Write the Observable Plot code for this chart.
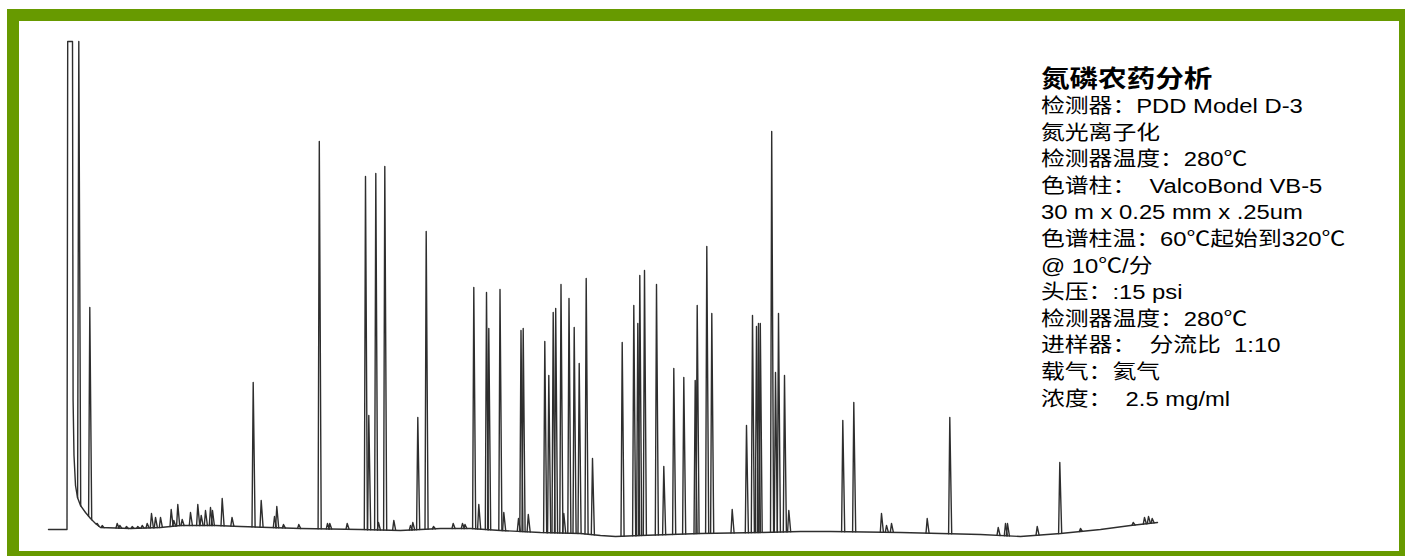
<!DOCTYPE html>
<html>
<head>
<meta charset="utf-8">
<script src="https://cdn.jsdelivr.net/npm/d3@7"></script>
<script src="https://cdn.jsdelivr.net/npm/@observablehq/plot@0.6"></script>
<style>
  html, body { margin: 0; padding: 0; background: #ffffff; width: 1405px; height: 556px; overflow: hidden; }
  #frame { position: absolute; left: 7px; top: 9px; width: 1404px; height: 554px; box-sizing: border-box; border: 12px solid #679a00; }
  #chart { position: absolute; left: 0; top: 0; }
  #notes { position: absolute; left: 1041px; top: 65px; transform: scaleX(1.19); transform-origin: left top;
           font-family: "Liberation Sans", "Noto Sans CJK SC", sans-serif; color: #000; white-space: pre; }
  #notes .title { font-size: 24px; font-weight: bold; line-height: 28px; height: 28px; }
  #notes .line { font-size: 20px; line-height: 26.6px; height: 26.6px; overflow: visible; }
  #notes .cjk { font-family: "Noto Sans CJK SC", sans-serif; line-height: 1; }
</style>
</head>
<body>
<div id="frame"></div>
<div id="chart"></div>
<div id="notes"></div>
<script>
// Baseline / solvent front of the trace (scan position, detector response)
const baseT = [48, 66.5, 67.2, 72, 72.6, 73.5, 75, 77, 80, 85, 90, 95, 100, 130, 160, 180, 215, 240, 300, 360, 400, 440, 470, 500, 540, 580, 600, 615, 640, 700, 760, 800, 830, 900, 980, 1020, 1060, 1100, 1130, 1157];
const baseV = [27, 27, 515, 515, 156, 101, 71, 59, 51, 44, 38, 33, 29, 28, 29, 31, 31, 30, 28, 27, 26, 28, 28, 26, 24, 23, 21, 20, 21, 23, 24, 25, 25, 24, 22, 20, 23, 27, 31, 34];

// Peak apex positions and apex responses
const peakT = [78.3, 89.3, 96.7, 101.7, 116.7, 119.3, 126, 131.7, 137.3, 141.7, 146.7, 151, 155, 160, 170.7, 173.3, 177.3, 181.7, 190, 197.3, 200.7, 205, 210, 212, 221.7, 231.5,
  252.7, 260.7, 274, 276.3, 283, 298.3, 318.8, 327, 329.3, 346.7, 365, 368.3, 375.3, 378, 384.3, 393.3, 410, 412.3, 417.3, 425.7, 433,
  452.7, 462, 464.5, 473.3, 478.3, 486, 488.3, 499.5, 503.3, 518, 520.5, 522.7, 527.8, 544.3, 548.3, 552.7, 555.2, 560.5, 563.3, 568.5, 573.7, 578.7, 585.7, 592,
  621.7, 633.3, 637.3, 639.3, 644, 656, 663.3, 673.3, 683.3, 694.7, 696.7, 706.3, 711.3, 731.7, 746, 752, 756, 758, 759.8, 771.2, 775, 778, 784, 788.3,
  842.3, 853.3, 881, 886, 891, 926.7, 949.3, 997.7, 1005, 1007, 1036.7, 1059.3, 1080, 1132.7, 1144, 1148, 1151.7];
const peakV = [515, 249, 33, 31, 33, 31, 30, 30, 30, 31, 33, 43, 39, 39, 47, 36, 52, 37, 44, 52, 41, 46, 49, 46, 58, 39,
  174, 56, 40, 50, 32, 32, 415, 33, 33, 33, 380, 141, 383, 34, 390, 36, 31, 34, 139, 325, 30,
  33, 33, 32, 269, 52, 264, 228, 267, 44, 38, 226, 228, 42, 215, 181, 244, 248, 272, 43, 258, 229, 193, 278, 98,
  214, 251, 233, 281, 286, 272, 90, 188, 179, 176, 251, 310, 243, 47, 131, 241, 230, 233, 233, 425, 184, 243, 181, 46,
  136, 154, 43, 31, 33, 38, 139, 29, 33, 33, 30, 94, 28, 34, 39, 40, 38];

// Text block
const titleText = "氮磷农药分析";
const noteLines = [
  "检测器：PDD Model D-3",
  "氮光离子化",
  "检测器温度：280℃",
  "色谱柱：  ValcoBond VB-5",
  "30 m x 0.25 mm x .25um",
  "色谱柱温：60℃起始到320℃",
  "@ 10℃/分",
  "头压：:15 psi",
  "检测器温度：280℃",
  "进样器：  分流比  1:10",
  "载气：氦气",
  "浓度：  2.5 mg/ml"
];

const baseline = baseT.map((t, i) => ({t, v: baseV[i]}));
const baseAt = d3.scaleLinear().domain(baseT).range(baseV).clamp(true);
const peaks = [];
peakT.forEach((t, i) => {
  const l = t - 1.2, r = t + 1.9;
  peaks.push({id: i, t: l, v: baseAt(l)});
  peaks.push({id: i, t: t, v: peakV[i]});
  peaks.push({id: i, t: r, v: baseAt(r)});
});

const chart = Plot.plot({
  width: 1405,
  height: 556,
  margin: 0,
  x: {domain: [0, 1405], axis: null},
  y: {domain: [0, 556], axis: null},
  style: {background: "transparent"},
  marks: [
    Plot.line(baseline, {x: "t", y: "v", stroke: "#2e2e2e", strokeWidth: 1.4}),
    Plot.line(peaks, {x: "t", y: "v", z: "id", stroke: "#2e2e2e", strokeWidth: 1.4})
  ]
});
document.getElementById("chart").appendChild(chart);

const notes = document.getElementById("notes");
const t = document.createElement("div");
t.className = "title";
t.textContent = titleText;
notes.appendChild(t);
noteLines.forEach(s => {
  const d = document.createElement("div");
  d.className = "line";
  s.split(/(℃)/).forEach(part => {
    if (!part) return;
    const sp = document.createElement("span");
    if (part === "℃") sp.className = "cjk";
    sp.textContent = part;
    d.appendChild(sp);
  });
  notes.appendChild(d);
});
</script>
</body>
</html>
